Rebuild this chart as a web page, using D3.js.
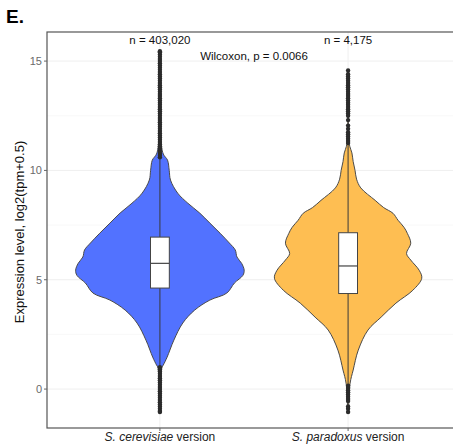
<!DOCTYPE html>
<html>
<head>
<meta charset="utf-8">
<script src="https://cdn.jsdelivr.net/npm/d3@7"></script>
<style>
  body { margin: 0; background: #fff; }
  text { font-family: "Liberation Sans", Arial, Helvetica, sans-serif; }
</style>
</head>
<body>
<svg id="chart" width="453" height="446"></svg>
<script>
// ---------------- data ----------------
const categories = ["S. cerevisiae", "S. paradoxus"];
const nLabels = ["n = 403,020", "n = 4,175"];
const testLabel = "Wilcoxon, p = 0.0066";
const yTicks = [0, 5, 10, 15];
const yMinorTicks = [2.5, 7.5, 12.5];
const colors = ["#5272FF", "#FEBE52"];

// violin densities: [value, relative density]
const cerevisiaeViolin = [
  [-1.05, 0.004], [0.0, 0.01], [1.0, 0.025], [1.1, 0.04], [1.46, 0.085], [2.24, 0.165],
  [3.02, 0.27], [3.61, 0.41], [4.07, 0.59], [4.39, 0.79], [4.85, 0.88], [5.2, 0.98],
  [5.44, 0.995], [5.75, 0.965], [6.04, 0.91], [6.36, 0.89], [6.68, 0.82], [7.13, 0.71],
  [7.59, 0.59], [8.05, 0.47], [8.5, 0.33], [8.96, 0.21], [9.56, 0.125], [10.0, 0.11],
  [10.47, 0.09], [10.75, 0.04], [11.5, 0.01], [15.5, 0.003]
];
const paradoxusViolin = [
  [-1.05, 0.004], [0.27, 0.024], [0.87, 0.06], [1.78, 0.12], [2.7, 0.235], [3.29, 0.39],
  [3.93, 0.565], [4.52, 0.765], [5.07, 0.87], [5.43, 0.84], [5.9, 0.74], [6.2, 0.69],
  [6.67, 0.74], [7.12, 0.70], [7.4, 0.66], [7.72, 0.59], [8.04, 0.53], [8.3, 0.42],
  [8.63, 0.32], [9.2, 0.15], [9.6, 0.10], [10.0, 0.082], [10.4, 0.06], [10.8, 0.045],
  [11.1, 0.02], [11.5, 0.008], [14.57, 0.003]
];

// box statistics: [lowerWhisker, q1, median, q3, upperWhisker]
const cerevisiaeBox = [1.05, 4.62, 5.75, 6.95, 10.55];
const paradoxusBox = [0.2, 4.37, 5.63, 7.15, 11.2];

const cerevisiaeOutliers = [
  10.6, 10.7, 10.8, 10.9, 11.0, 11.1, 11.2, 11.3, 11.4, 11.5, 11.6, 11.7, 11.8, 11.9, 12.0,
  12.1, 12.2, 12.3, 12.4, 12.5, 12.6, 12.7, 12.8, 12.9, 13.0, 13.1, 13.2, 13.3, 13.4, 13.5,
  13.6, 13.7, 13.8, 13.9, 14.0, 14.1, 14.2, 14.3, 14.4, 14.5, 14.6, 14.7, 14.8, 14.9, 15.0,
  15.1, 15.2, 15.3, 15.4, 15.45,
  1.0, 0.9, 0.8, 0.7, 0.6, 0.5, 0.4, 0.3, 0.2, 0.1, 0.0, -0.1, -0.2, -0.3, -0.4, -0.5,
  -0.6, -0.7, -0.8, -0.9, -1.0, -1.05
];
const paradoxusOutliers = [
  11.25, 11.35, 11.45, 11.55, 11.65, 11.75, 11.9, 12.05, 12.3, 12.5, 12.6, 12.7, 12.8, 12.9,
  13.0, 13.1, 13.2, 13.3, 13.4, 13.5, 13.6, 13.7, 13.8, 13.9, 14.0, 14.1, 14.2, 14.3, 14.4, 14.57,
  0.15, 0.05, -0.05, -0.15, -0.25, -0.35, -0.45, -0.55, -0.8, -0.9, -1.05
];

const violins = [cerevisiaeViolin, paradoxusViolin];
const boxes = [cerevisiaeBox, paradoxusBox];
const outliers = [cerevisiaeOutliers, paradoxusOutliers];

// ---------------- layout ----------------
const svg = d3.select("#chart");
const panel = { left: 47, top: 32, right: 461, bottom: 428 };

const x = d3.scalePoint().domain(categories).range([panel.left, panel.right]).padding(0.6);
const y = d3.scaleLinear().domain([-1.78, 16.33]).range([panel.bottom, panel.top]);
const step = x.step();
const w = d3.scaleLinear().domain([0, 1]).range([0, 0.45 * step]);

// grid
const grid = svg.append("g");
grid.selectAll("line.minor").data(yMinorTicks).join("line")
  .attr("x1", panel.left).attr("x2", panel.right)
  .attr("y1", d => y(d)).attr("y2", d => y(d))
  .attr("stroke", "#f6f6f6").attr("stroke-width", 0.8);
grid.selectAll("line.major").data(yTicks).join("line")
  .attr("x1", panel.left).attr("x2", panel.right)
  .attr("y1", d => y(d)).attr("y2", d => y(d))
  .attr("stroke", "#efefef").attr("stroke-width", 1);
grid.selectAll("line.vert").data(categories).join("line")
  .attr("x1", d => x(d)).attr("x2", d => x(d))
  .attr("y1", panel.top).attr("y2", panel.bottom)
  .attr("stroke", "#efefef").attr("stroke-width", 1);

// violins
const area = d3.area()
  .curve(d3.curveCatmullRom.alpha(0.5))
  .y(d => y(d[0]));

categories.forEach((c, i) => {
  const cx = x(c);
  svg.append("path")
    .datum(violins[i])
    .attr("d", area.x0(d => cx - w(d[1])).x1(d => cx + w(d[1])))
    .attr("fill", colors[i])
    .attr("stroke", "#4a4a4a")
    .attr("stroke-width", 1);
});

// boxplots
const boxW = 0.1 * step;
categories.forEach((c, i) => {
  const cx = x(c);
  const b = boxes[i];
  const g = svg.append("g");
  g.append("line").attr("x1", cx).attr("x2", cx)
    .attr("y1", y(b[3])).attr("y2", y(b[4]))
    .attr("stroke", "#3a3a3a").attr("stroke-width", 1);
  g.append("line").attr("x1", cx).attr("x2", cx)
    .attr("y1", y(b[0])).attr("y2", y(b[1]))
    .attr("stroke", "#3a3a3a").attr("stroke-width", 1);
  g.append("rect")
    .attr("x", cx - boxW / 2).attr("width", boxW)
    .attr("y", y(b[3])).attr("height", y(b[1]) - y(b[3]))
    .attr("fill", "#fff").attr("stroke", "#444").attr("stroke-width", 1);
  g.append("line").attr("x1", cx - boxW / 2).attr("x2", cx + boxW / 2)
    .attr("y1", y(b[2])).attr("y2", y(b[2]))
    .attr("stroke", "#444").attr("stroke-width", 1.2);
  g.selectAll("circle").data(outliers[i]).join("circle")
    .attr("cx", cx).attr("cy", d => y(d)).attr("r", 2.2)
    .attr("fill", "#2b2b2b");
});

// panel border
svg.append("rect")
  .attr("x", panel.left).attr("y", panel.top)
  .attr("width", panel.right - panel.left).attr("height", panel.bottom - panel.top)
  .attr("fill", "none").attr("stroke", "#555").attr("stroke-width", 1.2);

// y axis ticks + labels
const yAxis = svg.append("g");
yAxis.selectAll("line").data(yTicks).join("line")
  .attr("x1", panel.left - 3).attr("x2", panel.left)
  .attr("y1", d => y(d)).attr("y2", d => y(d))
  .attr("stroke", "#666").attr("stroke-width", 1);
yAxis.selectAll("text").data(yTicks).join("text")
  .attr("x", panel.left - 5).attr("y", d => y(d))
  .attr("dy", "0.35em").attr("text-anchor", "end")
  .attr("font-size", 11).attr("fill", "#6a6a6a")
  .text(d => d);

// x axis ticks + labels
const xAxis = svg.append("g");
xAxis.selectAll("line").data(categories).join("line")
  .attr("x1", d => x(d)).attr("x2", d => x(d))
  .attr("y1", panel.bottom).attr("y2", panel.bottom + 3)
  .attr("stroke", "#666").attr("stroke-width", 1);
const xt = xAxis.selectAll("text").data(categories).join("text")
  .attr("x", d => x(d)).attr("y", 441)
  .attr("text-anchor", "middle").attr("font-size", 12).attr("fill", "#222");
xt.append("tspan").attr("font-style", "italic").text(d => d);
xt.append("tspan").text(" version");

// y axis title
svg.append("text")
  .attr("transform", `translate(24, ${(panel.top + panel.bottom) / 2 + 2}) rotate(-90)`)
  .attr("text-anchor", "middle").attr("font-size", 13).attr("fill", "#111")
  .text("Expression level, log2(tpm+0.5)");

// annotations
svg.selectAll("text.n").data(categories).join("text")
  .attr("class", "n")
  .attr("x", d => x(d)).attr("y", 43.5)
  .attr("text-anchor", "middle").attr("font-size", 11.5).attr("fill", "#111")
  .text((d, i) => nLabels[i]);
svg.append("text")
  .attr("x", (x(categories[0]) + x(categories[1])) / 2).attr("y", 60)
  .attr("text-anchor", "middle").attr("font-size", 11.5).attr("fill", "#111")
  .text(testLabel);

// panel letter
svg.append("text")
  .attr("x", 6).attr("y", 23)
  .attr("font-size", 19).attr("font-weight", "bold").attr("fill", "#000")
  .text("E.");
</script>
</body>
</html>
